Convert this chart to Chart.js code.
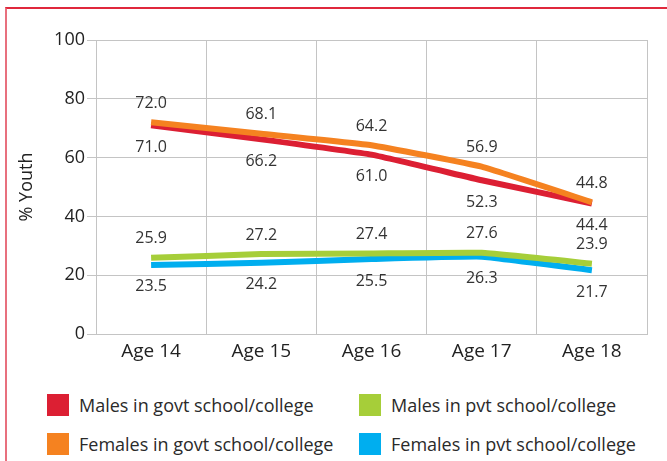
<!DOCTYPE html>
<html>
<head>
<meta charset="utf-8">
<script src="https://cdn.jsdelivr.net/npm/chart.js@4/dist/chart.umd.min.js"></script>
<style>
  html, body { margin: 0; padding: 0; background: #fff; }
  body { width: 667px; height: 461px; position: relative; overflow: hidden; font-family: 'Open Sans', sans-serif; }
  .frame { position: absolute; left: 5px; top: 7px; width: 700px; height: 500px;
           border-top: 2px solid #e0283c; border-left: 2px solid #e8707e; }
  .wrap { position: absolute; left: 0; top: 0; width: 667px; height: 380px; }
  .legend { position: absolute; left: 0; top: 0; }
  .item { position: absolute; display: flex; align-items: center; font-size: 18px; color: #2a2a2a; white-space: nowrap; }
  .box { width: 22px; height: 22px; margin-right: 10px; }
</style>
</head>
<body>
<div class="frame"></div>
<div class="wrap"><canvas id="chart"></canvas></div>
<div class="legend" id="legend"></div>
<script>
// ── Data ─────────────────────────────────────────────
const AGES = ['Age 14', 'Age 15', 'Age 16', 'Age 17', 'Age 18'];
const MALES_GOVT   = [71.0, 66.2, 61.0, 52.3, 44.4];
const FEMALES_GOVT = [72.0, 68.1, 64.2, 56.9, 44.8];
const MALES_PVT    = [25.9, 27.2, 27.4, 27.6, 23.9];
const FEMALES_PVT  = [23.5, 24.2, 25.5, 26.3, 21.7];
const Y_TICKS = [0, 20, 40, 60, 80, 100];

const COLORS = {
  malesGovt: '#dc1f33',
  femalesGovt: '#f58220',
  malesPvt: '#a6ce39',
  femalesPvt: '#00aeef',
};

const $ = id => document.getElementById(id);

// ── Value labels (above / below each point) ─────────
const valueLabels = {
  id: 'valueLabels',
  afterDatasetsDraw(chart) {
    const ctx = chart.ctx;
    ctx.save();
    ctx.font = '16px "Open Sans"';
    ctx.fillStyle = '#333';
    ctx.textAlign = 'center';
    ctx.textBaseline = 'middle';
    chart.data.datasets.forEach((ds, i) => {
      const meta = chart.getDatasetMeta(i);
      meta.data.forEach((pt, j) => {
        const dy = ds.labelPos === 'above' ? -19 : 22;
        ctx.fillText(ds.data[j].toFixed(1), pt.x, pt.y + dy);
      });
    });
    ctx.restore();
  }
};

function line(label, data, color, labelPos, order) {
  return {
    label, data, labelPos, order,
    borderColor: color, backgroundColor: color,
    borderWidth: 6, borderCapStyle: 'butt',
    pointRadius: 0, pointHoverRadius: 0,
    tension: 0.1, fill: false,
  };
}

const datasets = [
  line('Males in govt school/college', MALES_GOVT, COLORS.malesGovt, 'below', 2),
  line('Females in govt school/college', FEMALES_GOVT, COLORS.femalesGovt, 'above', 1),
  line('Males in pvt school/college', MALES_PVT, COLORS.malesPvt, 'above', 3),
  line('Females in pvt school/college', FEMALES_PVT, COLORS.femalesPvt, 'below', 4),
];

new Chart($('chart').getContext('2d'), {
  type: 'line',
  data: { labels: AGES, datasets },
  options: {
    responsive: true,
    maintainAspectRatio: false,
    animation: false,
    layout: { padding: { top: 40, right: 20, left: 0, bottom: 0 } },
    plugins: { legend: { display: false }, tooltip: { enabled: false } },
    scales: {
      x: {
        offset: true,
        grid: { offset: true, color: '#c4c4c4', drawTicks: false },
        border: { color: '#c4c4c4' },
        ticks: { color: '#222', font: { family: 'Open Sans', size: 19 }, padding: 6 },
        afterFit: s => { s.height = 46; },
      },
      y: {
        min: 0, max: 100,
        afterBuildTicks: s => { s.ticks = Y_TICKS.map(v => ({ value: v })); },
        grid: { color: '#c4c4c4', tickLength: 9 },
        border: { color: '#c4c4c4' },
        ticks: { color: '#222', font: { family: 'Open Sans', size: 18 }, padding: 2 },
        title: { display: true, text: '% Youth', color: '#222',
                 font: { family: 'Open Sans', size: 18 }, padding: { top: 16, bottom: 0 } },
        afterFit: s => { s.width = 96; },
      }
    }
  },
  plugins: [valueLabels]
});

// ── Legend (two columns) ─────────────────────────────
const LEGEND = [
  { text: 'Males in govt school/college', color: COLORS.malesGovt, x: 47, y: 393 },
  { text: 'Males in pvt school/college', color: COLORS.malesPvt, x: 359, y: 393 },
  { text: 'Females in govt school/college', color: COLORS.femalesGovt, x: 47, y: 432 },
  { text: 'Females in pvt school/college', color: COLORS.femalesPvt, x: 359, y: 432 },
];
LEGEND.forEach(l => {
  const d = document.createElement('div');
  d.className = 'item';
  d.style.left = l.x + 'px';
  d.style.top = l.y + 'px';
  d.innerHTML = `<span class="box" style="background:${l.color}"></span><span>${l.text}</span>`;
  $('legend').appendChild(d);
});
</script>
</body>
</html>
